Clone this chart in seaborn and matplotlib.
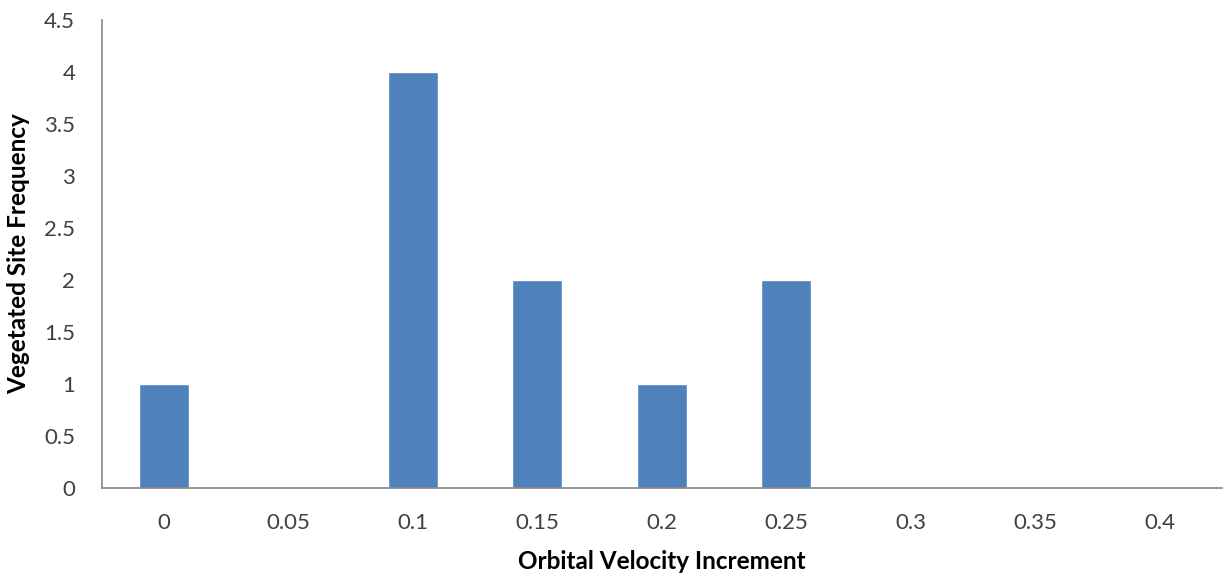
import matplotlib
matplotlib.use("Agg")
import matplotlib.pyplot as plt
import seaborn as sns
import pandas as pd

# Frequency of vegetated sites per orbital velocity increment
increments = ["0", "0.05", "0.1", "0.15", "0.2", "0.25", "0.3", "0.35", "0.4"]
frequency = [1, 0, 4, 2, 1, 2, 0, 0, 0]
y_ticks = [0, 0.5, 1, 1.5, 2, 2.5, 3, 3.5, 4, 4.5]
y_tick_labels = ["0", "0.5", "1", "1.5", "2", "2.5", "3", "3.5", "4", "4.5"]

sns.set_theme(style="white")
plt.rcParams["font.family"] = ["Lato", "DejaVu Sans"]

df = pd.DataFrame({"increment": increments, "frequency": frequency})

fig = plt.figure(figsize=(12.31, 5.78), dpi=100)
ax = fig.add_axes([0.0825, 0.1557, 0.9102, 0.8097])

sns.barplot(data=df, x="increment", y="frequency", order=increments,
            color="#4F81BD", saturation=1, width=0.4, ax=ax)

axis_color = "#868686"
text_color = "#404040"

ax.set_xlim(-0.5, len(increments) - 0.5)
ax.set_ylim(0, 4.5)
ax.set_yticks(y_ticks)
ax.set_yticklabels(y_tick_labels)

for side in ["top", "right"]:
    ax.spines[side].set_visible(False)
for side in ["left", "bottom"]:
    ax.spines[side].set_color(axis_color)
    ax.spines[side].set_linewidth(1.2)

# category tick marks sit between bars, labels centred under bars
ax.set_xticks(range(len(increments)))
ax.set_xticklabels(increments)
ax.tick_params(axis="x", length=0, pad=18, labelsize=16, labelcolor=text_color)
ax.set_xticks([i + 0.5 for i in range(len(increments))], minor=True)
ax.tick_params(axis="x", which="minor", length=8, width=1.2, color=axis_color, direction="out")
ax.tick_params(axis="y", length=9, width=1.2, color=axis_color, direction="out",
               labelsize=16, labelcolor=text_color, pad=10)

ax.set_xlabel("Orbital Velocity Increment", fontsize=17.5, fontweight="bold",
              color="#000000", labelpad=12)
ax.set_ylabel("Vegetated Site Frequency", fontsize=17.5, fontweight="bold",
              color="#000000", labelpad=10)

fig.savefig("out.png", dpi=100, facecolor="white")
